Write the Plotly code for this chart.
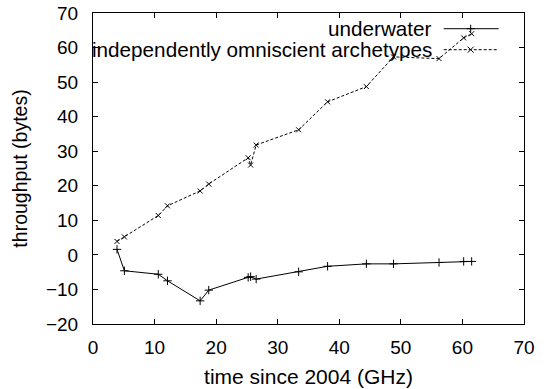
import plotly.graph_objects as go

# Data
x_vals = [3.9, 5.1, 10.6, 12.1, 17.4, 18.8, 25.2, 25.6, 26.5, 33.4, 38.1, 44.4, 48.8, 56.2, 60.2, 61.5]
underwater = [1.6, -4.6, -5.6, -7.5, -13.3, -10.2, -6.5, -6.3, -7.0, -4.9, -3.3, -2.6, -2.6, -2.2, -1.9, -1.9]
archetypes = [3.9, 5.2, 11.4, 14.2, 18.5, 20.5, 28.1, 26.0, 31.8, 36.2, 44.3, 48.7, 57.3, 56.8, 62.8, 64.0]

series_names = ["underwater", "independently omniscient archetypes"]
x_ticks = [0, 10, 20, 30, 40, 50, 60, 70]
y_ticks = [-20, -10, 0, 10, 20, 30, 40, 50, 60, 70]

FONT = "Liberation Sans, Arial, sans-serif"

fig = go.Figure()
fig.add_trace(go.Scatter(
    x=x_vals, y=underwater, mode="lines+markers", name=series_names[0],
    line=dict(color="black", width=1),
    marker=dict(symbol="cross-thin-open", size=6, color="black", line=dict(width=1, color="black")),
    showlegend=False,
))
fig.add_trace(go.Scatter(
    x=x_vals, y=archetypes, mode="lines+markers", name=series_names[1],
    line=dict(color="black", width=1, dash="3px,2px"),
    marker=dict(symbol="x-thin-open", size=5, color="black", line=dict(width=1, color="black")),
    showlegend=False,
))

axis_common = dict(
    showgrid=False, zeroline=False, showline=True, linecolor="black", linewidth=1,
    mirror="ticks", ticks="inside", ticklen=5, tickcolor="black", tickwidth=1,
    tickfont=dict(family=FONT, size=19, color="black"), automargin=False,
)

fig.update_layout(
    width=549, height=389,
    margin=dict(l=93, r=25, t=13, b=65),
    paper_bgcolor="white", plot_bgcolor="white",
    font=dict(family=FONT, size=19, color="black"),
    xaxis=dict(range=[0, 70], tickvals=x_ticks, ticklabelstandoff=6,
               title=dict(text="time since 2004 (GHz)", font=dict(family=FONT, size=21, color="black"), standoff=12),
               **axis_common),
    yaxis=dict(range=[-20, 70], tickvals=y_ticks, ticklabelstandoff=10,
               title=dict(text="throughput (bytes)", font=dict(family=FONT, size=19.5, color="black"), standoff=13),
               **axis_common),
)

# Gnuplot-style key: right-aligned text followed by a line sample with its marker
key_rows = [0.9495, 0.882]
key_dash = ["solid", "3px,2px"]
key_paths = ["M-4,0 L4,0 M0,-4 L0,4", "M-3,-3 L3,3 M-3,3 L3,-3"]
for name, yr, dash, path in zip(series_names, key_rows, key_dash, key_paths):
    fig.add_annotation(x=0.788, y=yr, xref="paper", yref="paper", text=name,
                       showarrow=False, xanchor="right", yanchor="middle", borderpad=0,
                       font=dict(family=FONT, size=20.7, color="black"))
    fig.add_shape(type="line", xref="paper", yref="paper", x0=0.8137, x1=0.9413, y0=yr, y1=yr,
                  line=dict(color="black", width=1, dash=dash))
    fig.add_shape(type="path", xref="paper", yref="paper", xsizemode="pixel", ysizemode="pixel",
                  xanchor=0.8763, yanchor=yr, path=path, line=dict(color="black", width=1))

fig.write_html("out.html")
